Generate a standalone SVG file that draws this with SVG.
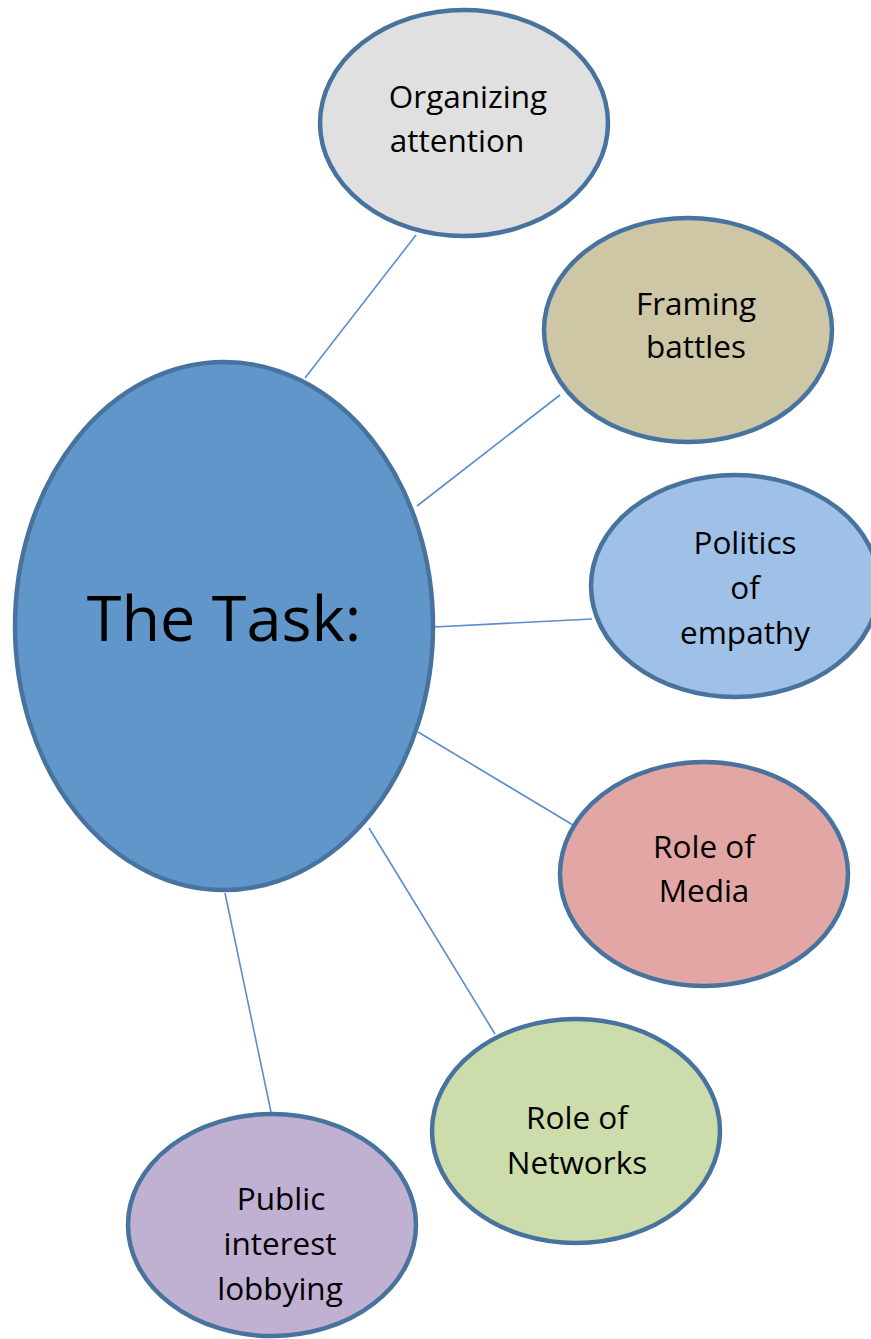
<svg xmlns="http://www.w3.org/2000/svg" width="871" height="1339" viewBox="0 0 871 1339">
<style>
.n{stroke:#48739f;stroke-width:4.5}
.t{font-family:"Open Sans","Liberation Sans",sans-serif;font-size:31.5px;fill:#000;text-anchor:middle}
.big{font-size:63px}
.c line{stroke:#5b8dcc;stroke-width:1.6}
</style>
<rect width="871" height="1339" fill="#fff"/>
<g class="c" id="connectors">
<line x1="305" y1="378" x2="416" y2="235"/>
<line x1="417" y1="506" x2="560" y2="395"/>
<line x1="434" y1="627" x2="592" y2="619"/>
<line x1="418" y1="732" x2="573" y2="825"/>
<line x1="369" y1="828" x2="495" y2="1034"/>
<line x1="225" y1="893" x2="271" y2="1112"/>
</g>
<g id="task">
<ellipse class="n" cx="224" cy="626" rx="209" ry="264" fill="#6096c9"/>
<text class="t big" x="224" y="641">The Task:</text>
</g>
<g id="organizing">
<ellipse class="n" cx="464" cy="123" rx="144" ry="113" fill="#e0e0e0"/>
<text class="t" x="468" y="108">Organizing</text>
<text class="t" x="457" y="152">attention</text>
</g>
<g id="framing">
<ellipse class="n" cx="688" cy="330" rx="144" ry="112" fill="#cdc7a6"/>
<text class="t" x="696" y="315">Framing</text>
<text class="t" x="696" y="358">battles</text>
</g>
<g id="politics">
<ellipse class="n" cx="735" cy="586" rx="144" ry="111" fill="#a0c1e7"/>
<text class="t" x="745" y="554">Politics</text>
<text class="t" x="745" y="599">of</text>
<text class="t" x="745" y="644">empathy</text>
</g>
<g id="media">
<ellipse class="n" cx="704" cy="874" rx="144" ry="112" fill="#e2a7a5"/>
<text class="t" x="704" y="858">Role of</text>
<text class="t" x="704" y="902">Media</text>
</g>
<g id="networks">
<ellipse class="n" cx="576" cy="1131" rx="144" ry="112" fill="#cddcab"/>
<text class="t" x="577" y="1129">Role of</text>
<text class="t" x="577" y="1174">Networks</text>
</g>
<g id="lobbying">
<ellipse class="n" cx="272" cy="1225" rx="144" ry="111" fill="#c0b1d2"/>
<text class="t" x="281" y="1210">Public</text>
<text class="t" x="280" y="1255">interest</text>
<text class="t" x="280" y="1300">lobbying</text>
</g>
</svg>
